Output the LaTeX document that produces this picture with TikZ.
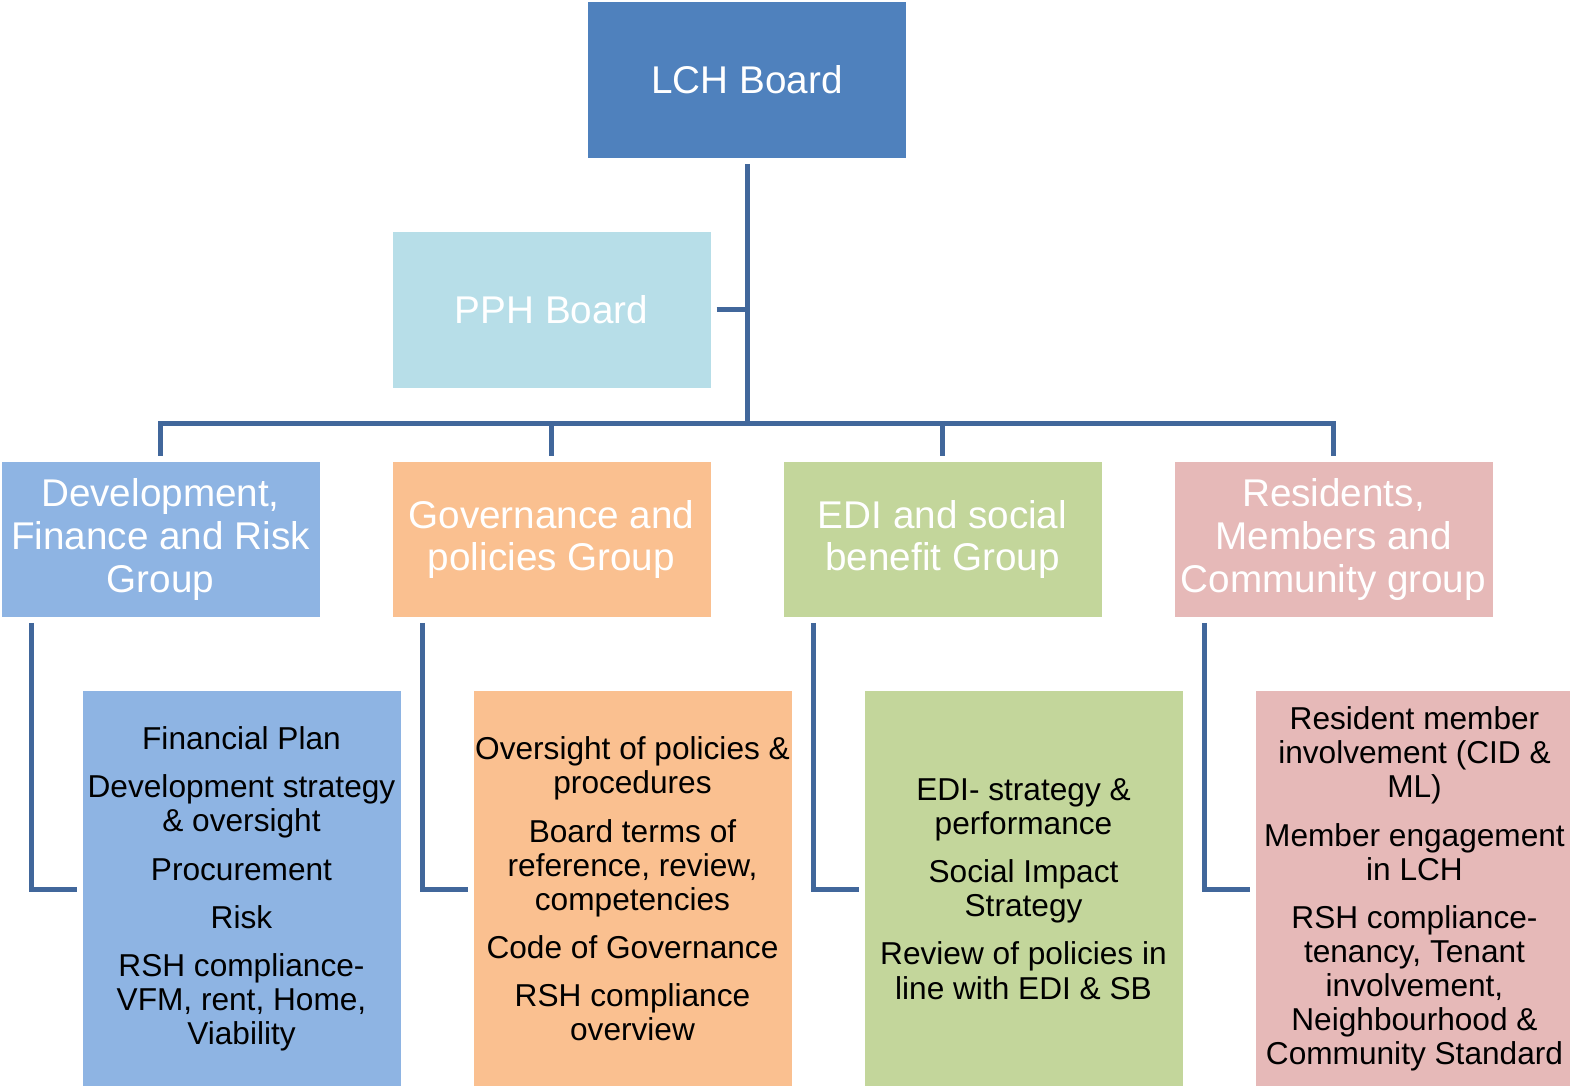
\documentclass[tikz,border=0pt]{standalone}
\usepackage{fontspec}
\setmainfont{Liberation Sans}
\usepackage{xcolor}
\usetikzlibrary{positioning}

\definecolor{lchblue}{HTML}{4F81BD}
\definecolor{pphblue}{HTML}{B7DEE8}
\definecolor{grpblue}{HTML}{8EB4E3}
\definecolor{grporange}{HTML}{FAC090}
\definecolor{grpgreen}{HTML}{C3D69B}
\definecolor{grppink}{HTML}{E6B9B8}
\definecolor{linkblue}{HTML}{41679B}

\begin{document}
\begin{tikzpicture}[
        node distance=0.62cm,
        board/.style={rectangle, fill=#1, text=white, minimum width=3.18cm, minimum height=1.56cm, align=center, inner sep=1pt, outer sep=0.06cm, font=\fontsize{11}{12.2}\selectfont},
        group/.style={rectangle, fill=#1, text=white, minimum width=3.18cm, minimum height=1.55cm, align=center, inner sep=1pt, outer sep=0.06cm, font=\fontsize{11}{12.2}\selectfont},
        duty/.style={rectangle, fill=#1, text=black, minimum width=3.18cm, minimum height=3.96cm, align=center, inner xsep=0pt, inner ysep=1pt, outer sep=0.06cm, font=\fontsize{9}{9.7}\selectfont},
        link/.style={draw=linkblue, line width=0.05cm}
      ]
        \useasboundingbox (0,0) rectangle (15.70,-10.86);

        % Boards
        \node[board=lchblue] (lch) at (7.47,-0.80) {LCH Board};
        \node[board=pphblue, below=of lch, xshift=-1.955cm] (pph) {PPH Board};

        % Groups
        \node[group=grporange, below=of pph] (gov) {Governance and\\policies Group};
        \node[group=grpblue, left=0.61cm of gov] (dfr) {Development,\\Finance and Risk\\Group};
        \node[group=grpgreen, right=0.61cm of gov] (edi) {EDI and social\\benefit Group};
        \node[group=grppink, right=0.61cm of edi] (res) {Residents,\\Members and\\Community group};

        % Duties of each group
        \node[duty=grpblue, below=of dfr.south west, anchor=north west, xshift=0.81cm] (dfr-duty)
          {Financial Plan\\[4pt]Development strategy\\\& oversight\\[4pt]Procurement\\[4pt]Risk\\[4pt]RSH compliance-\\VFM, rent, Home,\\Viability};
        \node[duty=grporange, below=of gov.south west, anchor=north west, xshift=0.81cm] (gov-duty)
          {Oversight of policies \&\\procedures\\[4pt]Board terms of\\reference, review,\\competencies\\[4pt]Code of Governance\\[4pt]RSH compliance\\overview};
        \node[duty=grpgreen, below=of edi.south west, anchor=north west, xshift=0.81cm] (edi-duty)
          {EDI- strategy \&\\performance\\[4pt]Social Impact\\Strategy\\[4pt]Review of policies in\\line with EDI \& SB};
        \node[duty=grppink, below=of res.south west, anchor=north west, xshift=0.81cm] (res-duty)
          {Resident member\\involvement (CID \&\\ML)\\[4pt]Member engagement\\in LCH\\[4pt]RSH compliance-\\tenancy, Tenant\\involvement,\\Neighbourhood \&\\Community Standard};

        % Links
        \coordinate (bus) at (7.47,-4.24);
        \draw[link] (lch.south) -- (bus);
        \draw[link] (pph.east) -- (pph.east -| bus);
        \foreach \g in {dfr,gov,edi,res}
          \draw[link] (bus) -| (\g.north);
        \foreach \g in {dfr,gov,edi,res}
          \draw[link] ([xshift=0.355cm]\g.south west) |- (\g-duty.west);
      \end{tikzpicture}
\end{document}
